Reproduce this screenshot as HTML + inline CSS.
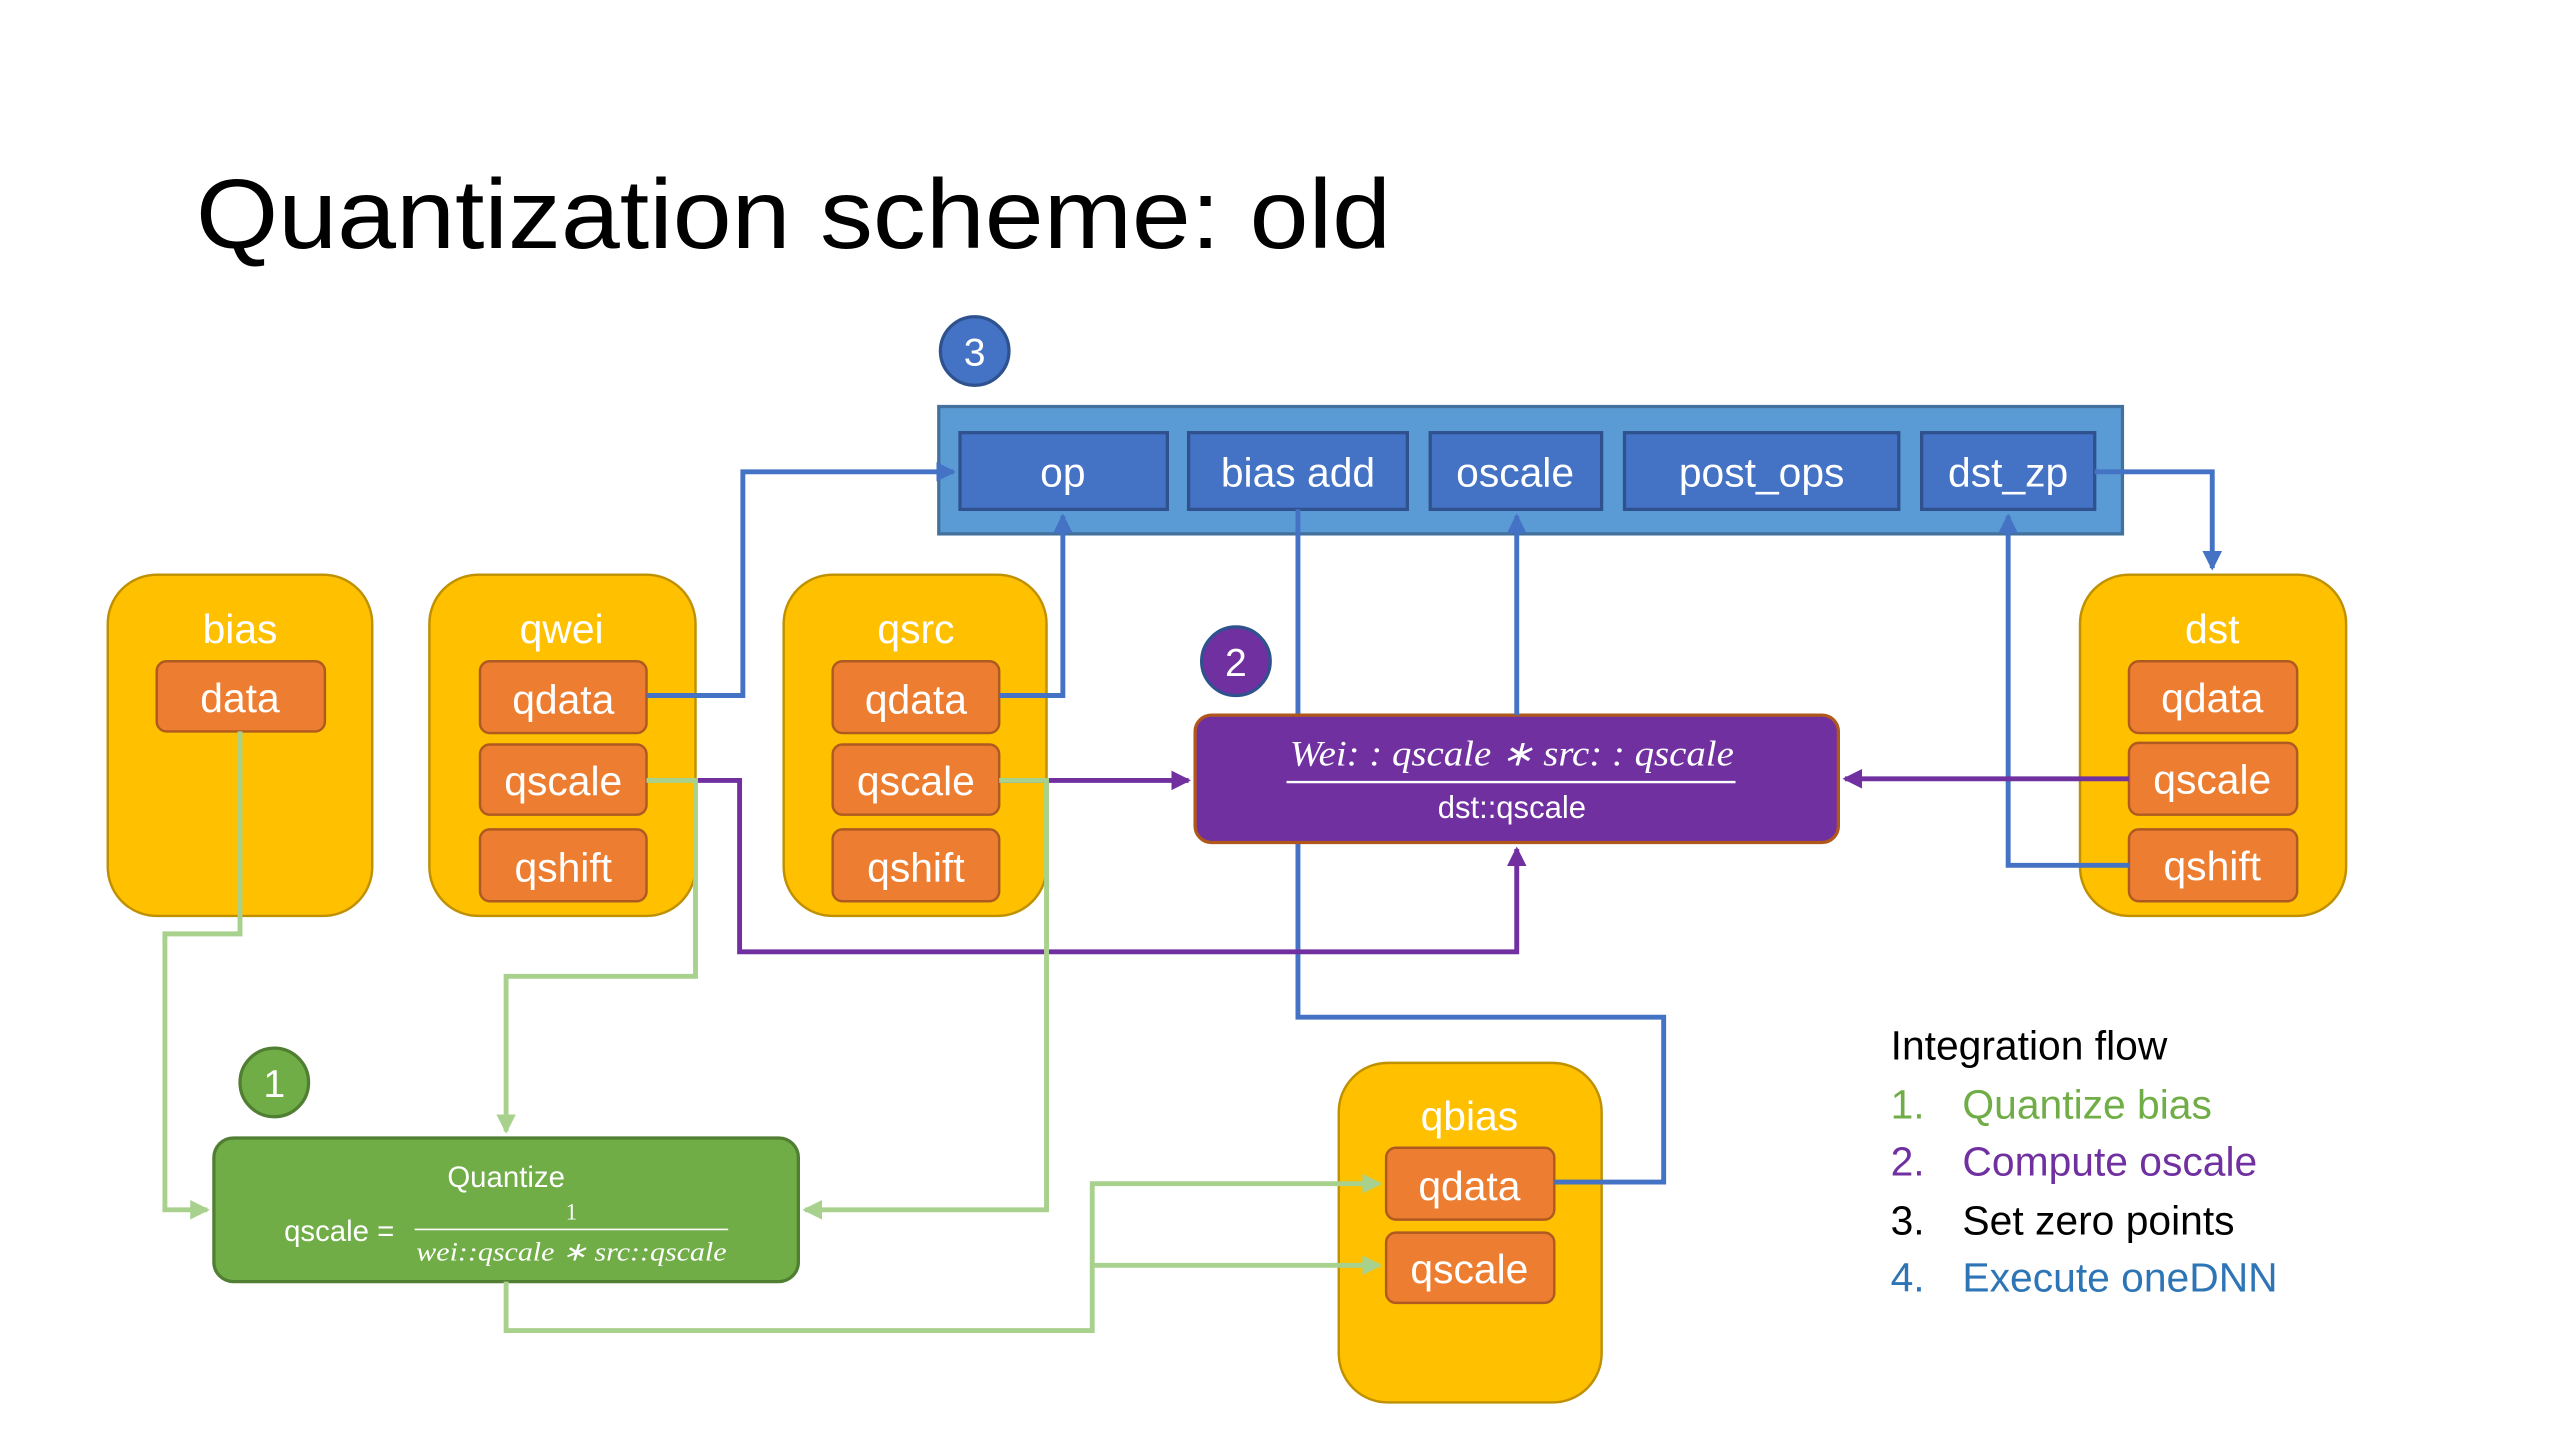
<!DOCTYPE html>
<html><head><meta charset="utf-8"><style>html,body{margin:0;padding:0;background:#fff}svg{display:block}</style></head>
<body>
<svg width="2560" height="1440" viewBox="0 0 1568 882" preserveAspectRatio="none" xmlns="http://www.w3.org/2000/svg" font-family="Liberation Sans, sans-serif">
<defs>
<marker id="ab" markerWidth="4" markerHeight="4" refX="3.5" refY="2" orient="auto" markerUnits="strokeWidth"><path d="M0,0L4,2L0,4z" fill="#4472C4"/></marker>
<marker id="ap" markerWidth="4" markerHeight="4" refX="3.5" refY="2" orient="auto" markerUnits="strokeWidth"><path d="M0,0L4,2L0,4z" fill="#7030A0"/></marker>
<marker id="ag" markerWidth="4" markerHeight="4" refX="3.5" refY="2" orient="auto" markerUnits="strokeWidth"><path d="M0,0L4,2L0,4z" fill="#A9D18E"/></marker>
</defs>
<text x="120" y="152" font-size="60" fill="#000" textLength="732" lengthAdjust="spacingAndGlyphs">Quantization scheme: old</text>

<g fill="#FFC000" stroke="#BF9000" stroke-width="1.5">
<rect x="66" y="352" width="162" height="209" rx="30"/>
<rect x="263" y="352" width="163" height="209" rx="30"/>
<rect x="480" y="352" width="161" height="209" rx="30"/>
<rect x="1274" y="352" width="163" height="209" rx="30"/>
<rect x="820" y="651" width="161" height="208" rx="30"/>
</g>
<g fill="#fff" font-size="25" text-anchor="middle">
<text x="147" y="394">bias</text><text x="344" y="394">qwei</text><text x="561" y="394">qsrc</text><text x="1355" y="394">dst</text><text x="900" y="692">qbias</text>
</g>
<g fill="#ED7D31" stroke="#AE5A21" stroke-width="1.5">
<rect x="96" y="405" width="103" height="43" rx="6"/>
<rect x="294" y="405" width="102" height="44" rx="6"/><rect x="294" y="456" width="102" height="43" rx="6"/><rect x="294" y="508" width="102" height="44" rx="6"/>
<rect x="510" y="405" width="102" height="44" rx="6"/><rect x="510" y="456" width="102" height="43" rx="6"/><rect x="510" y="508" width="102" height="44" rx="6"/>
<rect x="1304" y="405" width="103" height="44" rx="6"/><rect x="1304" y="455" width="103" height="44" rx="6"/><rect x="1304" y="508" width="103" height="44" rx="6"/>
<rect x="849" y="703" width="103" height="44" rx="6"/><rect x="849" y="755" width="103" height="43" rx="6"/>
</g>
<g fill="#fff" font-size="25" text-anchor="middle">
<text x="147" y="436">data</text>
<text x="345" y="437">qdata</text><text x="345" y="487">qscale</text><text x="345" y="540">qshift</text>
<text x="561" y="437">qdata</text><text x="561" y="487">qscale</text><text x="561" y="540">qshift</text>
<text x="1355" y="436">qdata</text><text x="1355" y="486">qscale</text><text x="1355" y="539">qshift</text>
<text x="900" y="735">qdata</text><text x="900" y="786">qscale</text>
</g>

<rect x="575" y="249" width="725" height="78" fill="#5B9BD5" stroke="#41719C" stroke-width="2"/>
<g fill="#4472C4" stroke="#2F528F" stroke-width="2">
<rect x="588" y="265" width="127" height="47"/><rect x="728" y="265" width="134" height="47"/><rect x="876" y="265" width="105" height="47"/><rect x="995" y="265" width="168" height="47"/><rect x="1177" y="265" width="106" height="47"/>
</g>
<g fill="#fff" font-size="25" text-anchor="middle">
<text x="651" y="298">op</text><text x="795" y="298">bias add</text><text x="928" y="298">oscale</text><text x="1079" y="298">post_ops</text><text x="1230" y="298">dst_zp</text>
</g>

<g fill="none" stroke-width="3">
<polyline points="795,312 795,623 1019,623 1019,724 952,724" stroke="#4472C4"/>
</g>

<rect x="732" y="438" width="394" height="78" rx="10" fill="#7030A0" stroke="#B0581C" stroke-width="2"/>
<text x="926" y="469" fill="#fff" font-size="22" font-style="italic" font-family="Liberation Serif, serif" text-anchor="middle" textLength="272" lengthAdjust="spacingAndGlyphs">Wei: : qscale  ∗  src: : qscale</text>
<line x1="788" y1="479" x2="1063" y2="479" stroke="#fff" stroke-width="1.5"/>
<text x="926" y="501" fill="#fff" font-size="19" text-anchor="middle">dst::qscale</text>

<rect x="131" y="697" width="358" height="88" rx="12" fill="#70AD47" stroke="#507E32" stroke-width="2"/>
<text x="310" y="727" fill="#fff" font-size="18" text-anchor="middle">Quantize</text>
<text x="174" y="760" fill="#fff" font-size="18">qscale =</text>
<text x="350" y="747" fill="#fff" font-size="14" font-family="Liberation Serif, serif" text-anchor="middle">1</text>
<line x1="254" y1="753" x2="446" y2="753" stroke="#fff" stroke-width="1"/>
<text x="350" y="772" fill="#fff" font-size="16" font-style="italic" font-family="Liberation Serif, serif" text-anchor="middle" textLength="190" lengthAdjust="spacingAndGlyphs">wei::qscale ∗ src::qscale</text>

<circle cx="597" cy="215" r="21" fill="#4472C4" stroke="#2F528F" stroke-width="2"/>
<text x="597" y="224" fill="#fff" font-size="24" text-anchor="middle">3</text>
<circle cx="757" cy="405" r="21" fill="#7030A0" stroke="#2F528F" stroke-width="2"/>
<text x="757" y="414" fill="#fff" font-size="24" text-anchor="middle">2</text>
<circle cx="168" cy="663" r="21" fill="#70AD47" stroke="#507E32" stroke-width="2"/>
<text x="168" y="672" fill="#fff" font-size="24" text-anchor="middle">1</text>

<g fill="none" stroke-width="3">
<polyline points="396,426 455,426 455,289 584,289" stroke="#4472C4" marker-end="url(#ab)"/>
<polyline points="612,426 651,426 651,316" stroke="#4472C4" marker-end="url(#ab)"/>
<polyline points="929,438 929,316" stroke="#4472C4" marker-end="url(#ab)"/>
<polyline points="1304,530 1230,530 1230,316" stroke="#4472C4" marker-end="url(#ab)"/>
<polyline points="1283,289 1355,289 1355,348" stroke="#4472C4" marker-end="url(#ab)"/>

<polyline points="612,478 728,478" stroke="#7030A0" marker-end="url(#ap)"/>
<polyline points="426,478 453,478 453,583 929,583 929,520" stroke="#7030A0" marker-end="url(#ap)"/>
<polyline points="1304,477 1130,477" stroke="#7030A0" marker-end="url(#ap)"/>

<polyline points="147,448 147,572 101,572 101,741 127,741" stroke="#A9D18E" marker-end="url(#ag)"/>
<polyline points="396,478 426,478 426,598 310,598 310,693" stroke="#A9D18E" marker-end="url(#ag)"/>
<polyline points="612,478 641,478 641,741 493,741" stroke="#A9D18E" marker-end="url(#ag)"/>
<polyline points="310,785 310,815 669,815 669,725 845,725" stroke="#A9D18E" marker-end="url(#ag)"/>
<polyline points="669,775 845,775" stroke="#A9D18E" marker-end="url(#ag)"/>
</g>

<g font-size="25">
<text x="1158" y="649" fill="#000">Integration flow</text>
<text x="1158" y="685" fill="#70AD47">1.</text><text x="1202" y="685" fill="#70AD47">Quantize bias</text>
<text x="1158" y="720" fill="#7030A0">2.</text><text x="1202" y="720" fill="#7030A0">Compute oscale</text>
<text x="1158" y="756" fill="#000">3.</text><text x="1202" y="756" fill="#000">Set zero points</text>
<text x="1158" y="791" fill="#2E75B6">4.</text><text x="1202" y="791" fill="#2E75B6">Execute oneDNN</text>
</g>
</svg>
</body></html>
